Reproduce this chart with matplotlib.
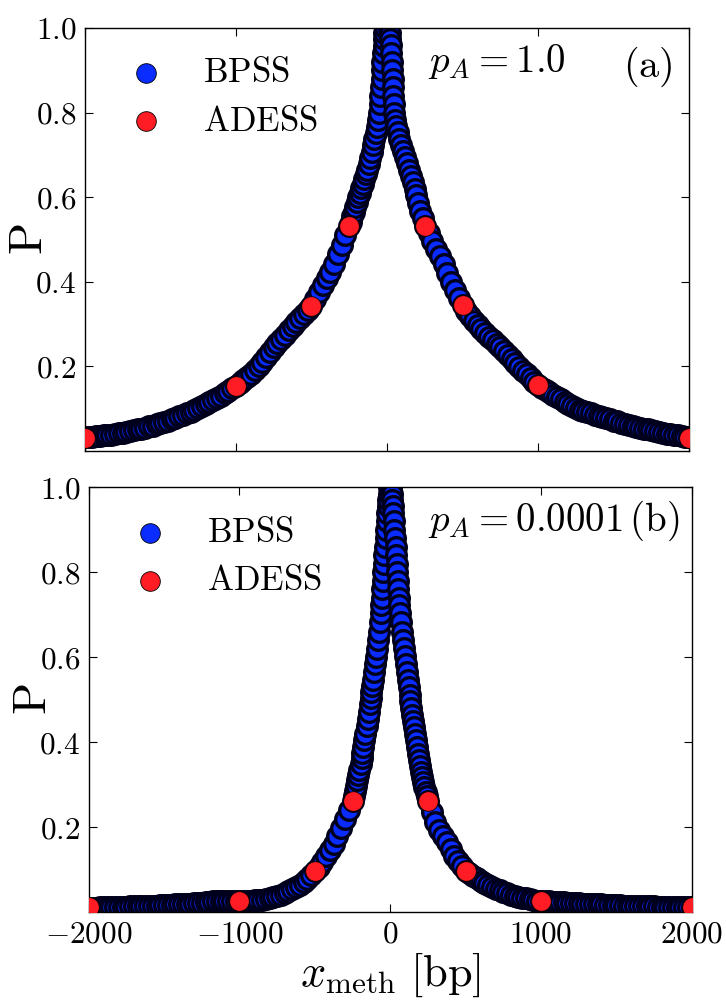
import matplotlib
matplotlib.use('Agg')
import matplotlib.pyplot as plt

plt.rcParams['mathtext.fontset'] = 'cm'
plt.rcParams['font.family'] = 'serif'
plt.rcParams['font.serif'] = ['cmr10', 'DejaVu Serif']
plt.rcParams['axes.formatter.use_mathtext'] = True

# ---------------- data ----------------
# panel (a): p_A = 1.0, BPSS, left branch
bpss_a_left_x = [-2000, -1975, -1950, -1925, -1900, -1875, -1850, -1825, -1800, -1775,
                 -1750, -1725, -1700, -1675, -1650, -1625, -1600, -1575, -1550, -1525,
                 -1500, -1475, -1450, -1425, -1400, -1375, -1350, -1325, -1300, -1275,
                 -1250, -1225, -1200, -1175, -1150, -1125, -1100, -1075, -1050, -1025,
                 -1000, -975, -950, -925, -900, -875, -850, -825, -800, -775,
                 -750, -725, -700, -675, -650, -625, -600, -575, -550, -525,
                 -500, -475, -450, -425, -400, -375, -350, -325, -300, -275,
                 -250, -240, -230, -220, -210, -200, -190, -180, -170, -160,
                 -150, -140, -130, -120, -110, -101, -92, -84, -75, -67,
                 -59, -54, -48, -44, -40, -36, -33, -30, -26, -23,
                 -20, -17, -15]
bpss_a_left_p = [0.032, 0.033, 0.034, 0.035, 0.036, 0.037, 0.038, 0.039, 0.040, 0.042,
                 0.043, 0.045, 0.047, 0.049, 0.051, 0.053, 0.055, 0.058, 0.060, 0.063,
                 0.066, 0.069, 0.072, 0.075, 0.078, 0.082, 0.085, 0.089, 0.093, 0.097,
                 0.102, 0.106, 0.111, 0.116, 0.121, 0.126, 0.131, 0.137, 0.142, 0.148,
                 0.153, 0.160, 0.167, 0.174, 0.182, 0.191, 0.200, 0.211, 0.222, 0.234,
                 0.245, 0.255, 0.265, 0.275, 0.285, 0.295, 0.304, 0.314, 0.323, 0.333,
                 0.343, 0.359, 0.376, 0.392, 0.408, 0.423, 0.443, 0.465, 0.488, 0.510,
                 0.533, 0.542, 0.555, 0.566, 0.577, 0.589, 0.600, 0.611, 0.622, 0.632,
                 0.643, 0.654, 0.665, 0.679, 0.693, 0.708, 0.724, 0.738, 0.752, 0.767,
                 0.783, 0.800, 0.820, 0.840, 0.860, 0.880, 0.900, 0.920, 0.940, 0.958,
                 0.975, 0.988, 1.000]
# panel (a): right branch
bpss_a_right_x = [15, 18, 22, 25, 29, 33, 36, 38, 40, 42,
                  44, 47, 50, 60, 70, 81, 93, 105, 118, 131,
                  144, 157, 170, 182, 195, 207, 220, 235, 250, 275,
                  300, 325, 350, 375, 400, 425, 450, 475, 500, 525,
                  550, 575, 600, 625, 650, 675, 700, 725, 750, 775,
                  800, 825, 850, 875, 900, 925, 950, 975, 1000, 1025,
                  1050, 1075, 1100, 1125, 1150, 1175, 1200, 1225, 1250, 1275,
                  1300, 1325, 1350, 1375, 1400, 1425, 1450, 1475, 1500, 1525,
                  1550, 1575, 1600, 1625, 1650, 1675, 1700, 1725, 1750, 1775,
                  1800, 1825, 1850, 1875, 1900, 1925, 1950, 1975, 2000]
bpss_a_right_p = [1.000, 0.988, 0.975, 0.960, 0.940, 0.920, 0.900, 0.880, 0.860, 0.840,
                  0.820, 0.800, 0.783, 0.768, 0.753, 0.738, 0.724, 0.709, 0.695, 0.680,
                  0.665, 0.650, 0.635, 0.620, 0.605, 0.587, 0.568, 0.551, 0.533, 0.515,
                  0.497, 0.478, 0.460, 0.442, 0.420, 0.400, 0.381, 0.362, 0.344, 0.331,
                  0.319, 0.308, 0.298, 0.288, 0.279, 0.270, 0.262, 0.253, 0.245, 0.236,
                  0.227, 0.218, 0.208, 0.199, 0.190, 0.181, 0.172, 0.163, 0.155, 0.150,
                  0.144, 0.139, 0.133, 0.128, 0.122, 0.117, 0.111, 0.106, 0.101, 0.098,
                  0.095, 0.092, 0.089, 0.086, 0.083, 0.080, 0.077, 0.075, 0.072, 0.070,
                  0.067, 0.065, 0.062, 0.060, 0.057, 0.055, 0.053, 0.051, 0.049, 0.047,
                  0.045, 0.043, 0.041, 0.040, 0.038, 0.037, 0.035, 0.034, 0.032]

# panel (b): p_A = 0.0001, BPSS, left branch
bpss_b_left_x = [-2000, -1975, -1950, -1925, -1900, -1875, -1850, -1825, -1800, -1775,
                 -1750, -1725, -1700, -1675, -1650, -1625, -1600, -1575, -1550, -1525,
                 -1500, -1475, -1450, -1425, -1400, -1375, -1350, -1325, -1300, -1275,
                 -1250, -1225, -1200, -1175, -1150, -1125, -1100, -1075, -1050, -1025,
                 -1000, -975, -950, -925, -900, -875, -850, -825, -800, -775,
                 -750, -725, -700, -675, -650, -625, -600, -575, -550, -525,
                 -500, -475, -450, -425, -400, -375, -350, -325, -300, -275,
                 -250, -242, -235, -228, -220, -212, -205, -197, -190, -185,
                 -180, -172, -165, -157, -150, -142, -135, -130, -125, -120,
                 -115, -108, -102, -96, -90, -84, -77, -70, -64, -60,
                 -57, -53, -50, -46, -42, -38, -35, -31, -27, -23,
                 -20, -17, -14, -11, -8]
bpss_b_left_p = [0.010, 0.010, 0.010, 0.011, 0.011, 0.011, 0.011, 0.012, 0.012, 0.012,
                 0.012, 0.013, 0.013, 0.013, 0.013, 0.014, 0.014, 0.015, 0.015, 0.016,
                 0.016, 0.017, 0.017, 0.018, 0.018, 0.019, 0.019, 0.020, 0.021, 0.022,
                 0.022, 0.023, 0.024, 0.025, 0.025, 0.026, 0.027, 0.027, 0.027, 0.026,
                 0.026, 0.026, 0.027, 0.027, 0.028, 0.028, 0.029, 0.031, 0.033, 0.035,
                 0.038, 0.041, 0.045, 0.049, 0.053, 0.058, 0.063, 0.070, 0.078, 0.087,
                 0.096, 0.106, 0.118, 0.131, 0.146, 0.160, 0.178, 0.198, 0.218, 0.240,
                 0.261, 0.273, 0.285, 0.297, 0.310, 0.322, 0.335, 0.348, 0.362, 0.375,
                 0.389, 0.404, 0.420, 0.437, 0.455, 0.472, 0.490, 0.504, 0.518, 0.532,
                 0.546, 0.564, 0.583, 0.601, 0.620, 0.640, 0.660, 0.682, 0.703, 0.722,
                 0.740, 0.760, 0.780, 0.800, 0.820, 0.840, 0.860, 0.880, 0.900, 0.920,
                 0.940, 0.955, 0.970, 0.985, 1.000]
# panel (b): right branch
bpss_b_right_x = [8, 11, 14, 17, 20, 23, 27, 31, 35, 38,
                  42, 46, 50, 53, 57, 61, 65, 71, 78, 84,
                  90, 96, 103, 110, 116, 122, 128, 134, 140, 146,
                  152, 158, 164, 170, 175, 182, 190, 197, 205, 212,
                  220, 227, 235, 242, 250, 275, 300, 325, 350, 375,
                  400, 425, 450, 475, 500, 525, 550, 575, 600, 625,
                  650, 675, 700, 725, 750, 775, 800, 825, 850, 875,
                  900, 925, 950, 975, 1000, 1025, 1050, 1075, 1100, 1125,
                  1150, 1175, 1200, 1225, 1250, 1275, 1300, 1325, 1350, 1375,
                  1400, 1425, 1450, 1475, 1500, 1525, 1550, 1575, 1600, 1625,
                  1650, 1675, 1700, 1725, 1750, 1775, 1800, 1825, 1850, 1875,
                  1900, 1925, 1950, 1975, 2000]
bpss_b_right_p = [1.000, 0.985, 0.970, 0.955, 0.940, 0.920, 0.900, 0.880, 0.860, 0.840,
                  0.820, 0.800, 0.780, 0.760, 0.740, 0.722, 0.703, 0.682, 0.660, 0.641,
                  0.622, 0.603, 0.584, 0.565, 0.546, 0.529, 0.512, 0.496, 0.480, 0.465,
                  0.450, 0.435, 0.420, 0.405, 0.389, 0.373, 0.358, 0.344, 0.330, 0.317,
                  0.305, 0.294, 0.283, 0.272, 0.261, 0.236, 0.212, 0.194, 0.178, 0.164,
                  0.148, 0.133, 0.120, 0.108, 0.097, 0.091, 0.085, 0.079, 0.074, 0.069,
                  0.064, 0.059, 0.055, 0.051, 0.047, 0.044, 0.041, 0.038, 0.036, 0.034,
                  0.032, 0.030, 0.029, 0.027, 0.026, 0.025, 0.025, 0.024, 0.024, 0.023,
                  0.023, 0.022, 0.022, 0.021, 0.021, 0.020, 0.020, 0.019, 0.019, 0.018,
                  0.018, 0.017, 0.017, 0.016, 0.016, 0.016, 0.015, 0.015, 0.015, 0.014,
                  0.014, 0.014, 0.013, 0.013, 0.013, 0.012, 0.012, 0.012, 0.012, 0.011,
                  0.011, 0.011, 0.011, 0.011, 0.011]

# ADESS
adess_x = [-2000, -1000, -500, -250, 250, 500, 1000, 2000]
adess_a_p = [0.031, 0.154, 0.343, 0.533, 0.533, 0.344, 0.155, 0.031]
adess_b_p = [0.011, 0.025, 0.097, 0.261, 0.261, 0.097, 0.025, 0.012]

series_labels = [r'$\mathrm{BPSS}$', r'$\mathrm{ADESS}$']
panel_texts_a = [r'$p_A = 1.0$', r'$\mathrm{(a)}$']
panel_text_b = r'$p_A = 0.0001\,\mathrm{(b)}$'
xticks = [-2000, -1000, 0, 1000, 2000]
xticklabels = [r'$-2000$', r'$-1000$', r'$0$', r'$1000$', r'$2000$']
yticks = [0.2, 0.4, 0.6, 0.8, 1.0]
yticklabels = [r'$0.2$', r'$0.4$', r'$0.6$', r'$0.8$', r'$1.0$']

BLUE = '#0a2cff'
RED = '#ff1c24'
MS = 200

fig = plt.figure(figsize=(7.26, 10), dpi=100)
ax1 = fig.add_axes([0.1167, 0.549, 0.8327, 0.423])
ax2 = fig.add_axes([0.1222, 0.088, 0.8306, 0.4247])

panels = [(ax1, bpss_a_left_x + bpss_a_right_x, bpss_a_left_p + bpss_a_right_p, adess_a_p),
          (ax2, bpss_b_left_x + bpss_b_right_x, bpss_b_left_p + bpss_b_right_p, adess_b_p)]

for ax, bx, bp, ap in panels:
    ax.scatter(bx, bp, s=MS, c=BLUE, edgecolors='#00001c', linewidths=2.4,
               label=series_labels[0], zorder=2)
    ax.scatter(adess_x, ap, s=MS, c=RED, edgecolors='k', linewidths=0.6,
               label=series_labels[1], zorder=3)
    ax.set_xlim(-2000, 2000)
    ax.set_ylim(0.0, 1.0)
    ax.set_xticks(xticks)
    ax.set_yticks(yticks)
    ax.set_yticklabels(yticklabels)
    ax.tick_params(direction='in', length=5.5, width=0.8, top=True, right=True,
                   labelsize=22.5)
    ax.tick_params(axis='y', pad=6)
    ax.tick_params(axis='x', pad=6)
    for sp in ax.spines.values():
        sp.set_linewidth(1.0)
    ax.set_ylabel(r'$\mathrm{P}$', fontsize=34)
    ax.yaxis.set_label_coords(-0.056, 0.5)
    leg = ax.legend(loc='upper left', bbox_to_anchor=(0.055, 0.93),
                    frameon=False, scatterpoints=1, fontsize=25,
                    handlelength=1.6, handletextpad=0.85, borderpad=0.0,
                    labelspacing=0.48, borderaxespad=0.0)
    for h in leg.legend_handles:
        h.set_linewidth(0.6)
        h.set_edgecolor('k')
        h.set_sizes([MS])

ax1.set_xticklabels([])
ax2.set_xticklabels(xticklabels)
ax2.set_xlabel(r'$x_{\mathrm{meth}}\ [\mathrm{bp}]$', fontsize=32, labelpad=2)

ax1.text(0.568, 0.896, panel_texts_a[0], transform=ax1.transAxes,
         fontsize=28, ha='left', va='baseline')
ax1.text(0.890, 0.885, panel_texts_a[1], transform=ax1.transAxes,
         fontsize=29, ha='left', va='baseline')
ax2.text(0.563, 0.898, panel_text_b, transform=ax2.transAxes,
         fontsize=28, ha='left', va='baseline')

fig.savefig('out.png', dpi=100)
